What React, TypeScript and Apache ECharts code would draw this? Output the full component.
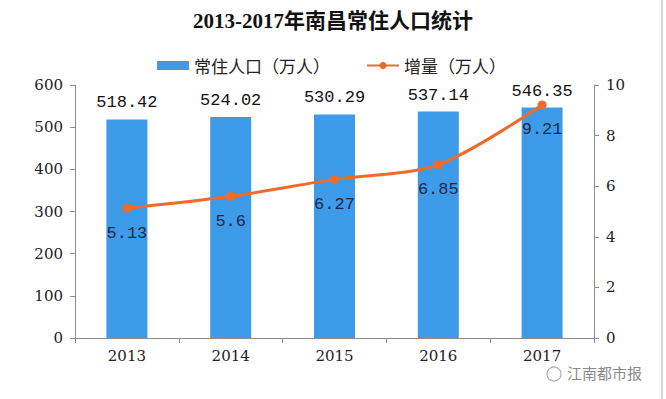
import React, { useEffect, useRef } from "react";
import * as echarts from "echarts";

const categories = ["2013", "2014", "2015", "2016", "2017"];
const population = [518.42, 524.02, 530.29, 537.14, 546.35];
const increase = [5.13, 5.6, 6.27, 6.85, 9.21];

const gray = "#8c8c8c";
const serif = "'Liberation Serif', 'Noto Sans CJK SC', serif";
const axisFont = "'DejaVu Serif', serif";
const mono = "'Liberation Mono', 'DejaVu Sans Mono', monospace";

export default function App() {
  const ref = useRef<HTMLDivElement>(null);
  useEffect(() => {
    const chart = echarts.init(ref.current!, null, { renderer: "svg" });
    chart.setOption({
      animation: false,
      backgroundColor: "#ffffff",
      title: {
        text: "2013-2017年南昌常住人口统计",
        left: "center",
        top: 5,
        textStyle: { fontFamily: serif, fontSize: 21, fontWeight: "bold", color: "#111" },
      },
      legend: {
        top: 52,
        left: 152,
        itemGap: 36,
        itemWidth: 32,
        itemHeight: 9,
        textStyle: { fontFamily: "'Noto Sans CJK SC', sans-serif", fontSize: 17, color: "#222" },
        data: [
          { name: "常住人口（万人）", icon: "rect" },
          { name: "增量（万人）" },
        ],
      },
      grid: { left: 75, right: 72, top: 85, bottom: 61 },
      xAxis: {
        type: "category",
        data: categories,
        axisLine: { lineStyle: { color: gray } },
        axisTick: { show: true, alignWithLabel: false, length: 5, lineStyle: { color: gray } },
        axisLabel: { fontFamily: axisFont, fontSize: 15, color: "#222", margin: 10 },
      },
      yAxis: [
        {
          type: "value",
          min: 0,
          max: 600,
          interval: 100,
          axisLine: { show: true, lineStyle: { color: gray } },
          axisTick: { show: true, length: 5, lineStyle: { color: gray } },
          splitLine: { show: false },
          axisLabel: { fontFamily: axisFont, fontSize: 15, color: "#222", margin: 12 },
        },
        {
          type: "value",
          min: 0,
          max: 10,
          interval: 2,
          position: "right",
          axisLine: { show: true, lineStyle: { color: gray } },
          axisTick: { show: true, length: 5, lineStyle: { color: gray } },
          splitLine: { show: false },
          axisLabel: { fontFamily: axisFont, fontSize: 15, color: "#222", margin: 12 },
        },
      ],
      series: [
        {
          name: "常住人口（万人）",
          type: "bar",
          data: population,
          barWidth: 41,
          itemStyle: { color: "#3e9bea" },
          label: {
            show: true,
            position: "top",
            distance: 8,
            fontFamily: mono,
            fontSize: 17,
            color: "#111",
          },
        },
        {
          name: "增量（万人）",
          type: "line",
          yAxisIndex: 1,
          data: increase,
          smooth: 0.3,
          symbol: "circle",
          symbolSize: 9,
          lineStyle: { color: "#f06a2a", width: 3 },
          itemStyle: { color: "#f06a2a" },
          label: {
            show: true,
            position: "bottom",
            distance: 12,
            fontFamily: mono,
            fontSize: 17,
            color: "#1c2a48",
          },
        },
      ],
      graphic: [
        {
          type: "line",
          shape: { x1: 662, y1: 0, x2: 662, y2: 399 },
          style: { stroke: "#b0b0b0", lineWidth: 1 },
        },
        {
          type: "circle",
          shape: { cx: 554, cy: 374, r: 7 },
          style: { fill: "none", stroke: "#aaaaaa", lineWidth: 1.2 },
        },
        {
          type: "text",
          x: 567,
          y: 365,
          style: {
            text: "江南都市报",
            fontFamily: "'Noto Sans CJK SC', sans-serif",
            fontSize: 15,
            fill: "#8a8a8a",
          },
        },
      ],
    });
    return () => chart.dispose();
  }, []);
  return (
    <div
      ref={ref}
      style={{ position: "fixed", left: 0, top: 0, width: 666, height: 399 }}
    />
  );
}
